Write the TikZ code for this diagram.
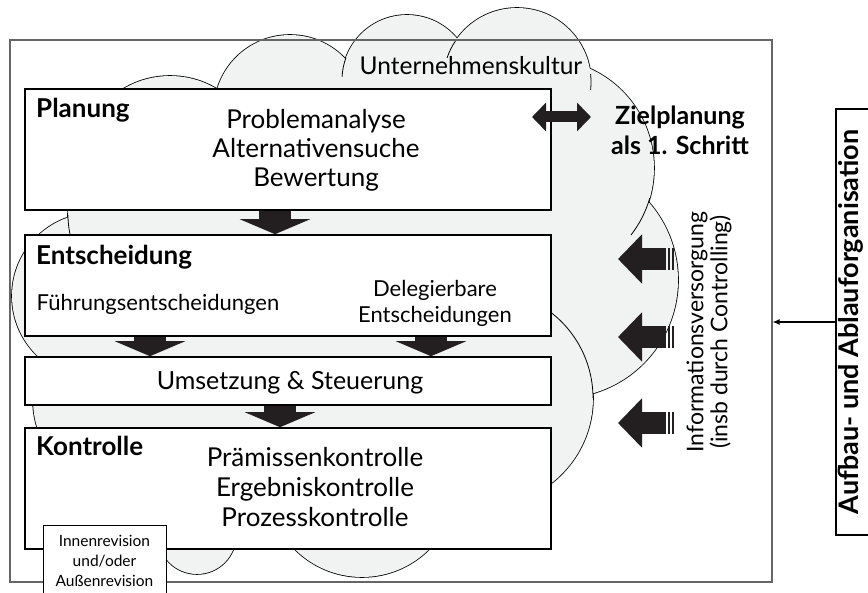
\documentclass[tikz,border=0pt]{standalone}
\usepackage{fontspec}
\setmainfont{Lato}
\usetikzlibrary{arrows.meta}
\definecolor{wolke}{RGB}{241,242,242}
\definecolor{pfeil}{RGB}{35,31,32}
\tikzstyle{stufe}=[draw=black, line width=1.6, fill=white, inner sep=0]
\tikzstyle{titel}=[font=\fontsize{26}{30}\selectfont\bfseries, anchor=base west, inner sep=0]
\tikzstyle{inhalt}=[font=\fontsize{26}{29}\selectfont, align=center, inner sep=0]
\tikzstyle{mittel}=[font=\fontsize{22}{26}\selectfont, align=center, inner sep=0]
\tikzstyle{blockpfeil}=[draw=pfeil, line width=32, -{Triangle[width=70pt,length=15pt]}]
\tikzstyle{infopfeil}=[draw=pfeil, line width=22, -{Triangle[width=48pt,length=24pt]}]
\tikzstyle{wolkenrand}=[line width=1.6]
\tikzstyle{innenbogen}=[line width=0.8]

\begin{document}
\begin{tikzpicture}[x=1pt, y=-1pt]
    \useasboundingbox (0,0) rectangle (868,593);
    \clip (0,0) rectangle (868,593);
% Wolke: Rand
    \draw[wolkenrand] (170,167) circle (91);
    \draw[wolkenrand] (290,111) circle (76);
    \draw[wolkenrand] (407,80) circle (65);
    \draw[wolkenrand] (517,82) circle (74);
    \draw[wolkenrand] (545,168) circle (109);
    \draw[wolkenrand] (560,280) circle (118);
    \draw[wolkenrand] (485,398) circle (108);
    \draw[wolkenrand] (362,482) circle (95);
    \draw[wolkenrand] (197,535) circle (39);
    \draw[wolkenrand] (95,296) circle (83);
    \draw[wolkenrand] (125,400) circle (92);
    \draw[wolkenrand] (160,215) circle (92);
% Wolke: Flaeche
    \fill[wolke] (170,167) circle (91);
    \fill[wolke] (290,111) circle (76);
    \fill[wolke] (407,80) circle (65);
    \fill[wolke] (517,82) circle (74);
    \fill[wolke] (545,168) circle (109);
    \fill[wolke] (560,280) circle (118);
    \fill[wolke] (485,398) circle (108);
    \fill[wolke] (362,482) circle (95);
    \fill[wolke] (197,535) circle (39);
    \fill[wolke] (95,296) circle (83);
    \fill[wolke] (125,400) circle (92);
    \fill[wolke] (160,215) circle (92);
    \fill[wolke] (75,150) rectangle (550,540);
% Wolke: innere Boegen
    \draw[innenbogen] (160,215) ++(180:92) arc[start angle=180, end angle=165, radius=92];
    \draw[innenbogen] (407,80) ++(183:65) arc[start angle=183, end angle=200, radius=65];
    \draw[innenbogen] (517,82) ++(199:74) arc[start angle=199, end angle=214, radius=74];
    \draw[innenbogen] (517,82) ++(-6:74) arc[start angle=-6, end angle=6, radius=74];
    \draw[innenbogen] (545,168) ++(16:109) arc[start angle=16, end angle=38, radius=109];
    \draw[innenbogen] (485,398) ++(-53:108) arc[start angle=-53, end angle=0, radius=108];
% Rahmen
    \node[draw=black!60, line width=1.2, minimum width=762, minimum height=542, inner sep=0] (rahmen) at (391,311) {};
    \node[anchor=base, inner sep=0, font=\fontsize{24.5}{26}\selectfont] (kultur) at (471,75) {Unternehmenskultur};
% Stufen
    \node[stufe, minimum width=526, minimum height=121] (plan) at (288,149.5) {};
    \node[stufe, minimum width=526, minimum height=101] (ents) at (288,285.5) {};
    \node[stufe, minimum width=526, minimum height=48] (ums) at (288,381) {};
    \node[stufe, minimum width=526, minimum height=121] (kontr) at (288,488.5) {};
    \node[titel] (plan-t) at (36,118) {Planung};
    \node[inhalt] (plan-i) at (316,150.5) {Problemanalyse\\Alternativensuche\\Bewertung};
    \node[titel] (ents-t) at (36,265) {Entscheidung};
    \node[mittel, anchor=base] (ents-f) at (158,311) {Führungsentscheidungen};
    \node[mittel] (ents-d) at (435,303) {Delegierbare\\Entscheidungen};
    \node[anchor=base, inner sep=0, font=\fontsize{25}{26}\selectfont] (ums-t) at (290,390) {Umsetzung \& Steuerung};
    \node[titel] (kontr-t) at (36,456) {Kontrolle};
    \node[inhalt, font=\fontsize{26}{30}\selectfont] (kontr-i) at (315,487.5) {Prämissenkontrolle\\Ergebniskontrolle\\Prozesskontrolle};
    \node[draw, line width=1, fill=white, minimum width=123, minimum height=72, inner sep=0, align=center, font=\fontsize{15.5}{20}\selectfont] (rev) at (104.5,561) {Innenrevision\\und/oder\\Außenrevision};
% Blockpfeile
    \draw[blockpfeil] ([xshift=-13]plan.south) -- ([xshift=-13]ents.north);
    \draw[blockpfeil] ([xshift=-138]ents.south) -- ([xshift=-138]ums.north);
    \draw[blockpfeil] ([xshift=143]ents.south) -- ([xshift=143]ums.north);
    \draw[blockpfeil] ([xshift=-8]ums.south) -- ([xshift=-8]kontr.north);
% Zielplanung
    \node[align=center, inner sep=0, font=\fontsize{25}{30}\selectfont\bfseries] (ziel) at (680,130) {Zielplanung\\als 1. Schritt};
    \coordinate (ziel-l) at (532,117);
    \coordinate (ziel-r) at (591,117);
    \draw[draw=pfeil, line width=11, {Triangle[width=28pt,length=14pt]}-{Triangle[width=28pt,length=14pt]}] (ziel-l) -- (ziel-r);
% Informationsversorgung
    \node[mittel, rotate=90, font=\fontsize{23}{24}\selectfont] (info) at (709,332) {Informationsversorgung\\(insb durch Controlling)};
    \coordinate (info-a) at (666,259);
    \coordinate (info-b) at (666,337);
    \coordinate (info-c) at (666,423);
    \draw[infopfeil] (info-a) -- ++(-48,0);
    \draw[infopfeil] (info-b) -- ++(-48,0);
    \draw[infopfeil] (info-c) -- ++(-48,0);
    \fill[pfeil] ([xshift=2]info-a) ++(0,-11) rectangle ++(2,22);
    \fill[pfeil] ([xshift=6]info-a) ++(0,-11) rectangle ++(2,22);
    \fill[pfeil] ([xshift=2]info-b) ++(0,-11) rectangle ++(2,22);
    \fill[pfeil] ([xshift=6]info-b) ++(0,-11) rectangle ++(2,22);
    \fill[pfeil] ([xshift=2]info-c) ++(0,-11) rectangle ++(2,22);
    \fill[pfeil] ([xshift=6]info-c) ++(0,-11) rectangle ++(2,22);
% Aufbau- und Ablauforganisation
    \node[draw, line width=1.2, rotate=90, minimum width=426, minimum height=50, inner sep=0] (orga) at (861,322) {};
    \node[rotate=90, inner sep=0, font=\fontsize{27}{28}\selectfont\bfseries] (orga-t) at (851,322) {Aufbau- und Ablauforganisation};
    \draw[line width=1.2, -{Latex[length=7pt,width=6pt]}] (orga.north) -- (orga.north -| rahmen.east);
\end{tikzpicture}
\end{document}
